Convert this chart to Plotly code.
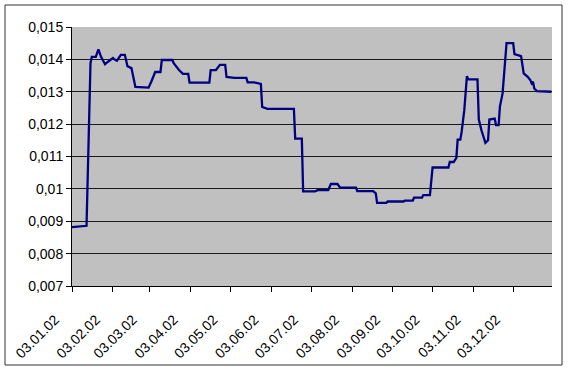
import plotly.graph_objects as go

dates = [
    "2002-01-03", "2002-01-14", "2002-01-17", "2002-01-18", "2002-01-21", "2002-01-23",
    "2002-01-25", "2002-01-28", "2002-01-30", "2002-02-03", "2002-02-04", "2002-02-06",
    "2002-02-09", "2002-02-12", "2002-02-14", "2002-02-17", "2002-02-20", "2002-02-28",
    "2002-03-02", "2002-03-04", "2002-03-07", "2002-03-11", "2002-03-12", "2002-03-20",
    "2002-03-21", "2002-03-25", "2002-03-28", "2002-04-01", "2002-04-02", "2002-04-17",
    "2002-04-18", "2002-04-22", "2002-04-25", "2002-04-29", "2002-04-30", "2002-05-06",
    "2002-05-15", "2002-05-16", "2002-05-21", "2002-05-26", "2002-05-27", "2002-05-31",
    "2002-06-20", "2002-06-21", "2002-06-26", "2002-06-27", "2002-07-06", "2002-07-08",
    "2002-07-16", "2002-07-18", "2002-07-23", "2002-07-25", "2002-08-06", "2002-08-07",
    "2002-08-19", "2002-08-21", "2002-08-22", "2002-08-29", "2002-08-30", "2002-09-11",
    "2002-09-12", "2002-09-18", "2002-09-19", "2002-09-25", "2002-09-26", "2002-10-01",
    "2002-10-03", "2002-10-15", "2002-10-16", "2002-10-19", "2002-10-21", "2002-10-22",
    "2002-10-24", "2002-10-25", "2002-10-27", "2002-10-29", "2002-10-30", "2002-11-06",
    "2002-11-07", "2002-11-09", "2002-11-12", "2002-11-14", "2002-11-15", "2002-11-19",
    "2002-11-20", "2002-11-22", "2002-11-23", "2002-11-25", "2002-11-27", "2002-11-28",
    "2002-12-03", "2002-12-04", "2002-12-09", "2002-12-11", "2002-12-14", "2002-12-16",
    "2002-12-17", "2002-12-18", "2002-12-19", "2002-12-21", "2003-01-01",
]
values = [
    0.00882, 0.00886, 0.01388, 0.01408, 0.01408, 0.01431,
    0.01408, 0.01385, 0.01392, 0.01404, 0.01400, 0.01396,
    0.01414, 0.01414, 0.01379, 0.01373, 0.01315, 0.01315,
    0.01313, 0.01331, 0.01361, 0.01361, 0.01398, 0.01398,
    0.01388, 0.01367, 0.01355, 0.01355, 0.01328, 0.01328,
    0.01367, 0.01367, 0.01383, 0.01383, 0.01346, 0.01343,
    0.01343, 0.01329, 0.01329, 0.01324, 0.01253, 0.01247,
    0.01247, 0.01155, 0.01155, 0.00992, 0.00992, 0.00996,
    0.00996, 0.01015, 0.01015, 0.01004, 0.01004, 0.00993,
    0.00993, 0.00986, 0.00957, 0.00957, 0.00961, 0.00961,
    0.00964, 0.00964, 0.00973, 0.00973, 0.00981, 0.00981,
    0.01066, 0.01066, 0.01083, 0.01083, 0.01096, 0.01152,
    0.01152, 0.01176, 0.01243, 0.01348, 0.01338, 0.01338,
    0.01214, 0.01181, 0.01142, 0.01150, 0.01214, 0.01217,
    0.01197, 0.01197, 0.01255, 0.01295, 0.01408, 0.01450,
    0.01450, 0.01416, 0.01410, 0.01357, 0.01346, 0.01336,
    0.01326, 0.01331, 0.01310, 0.01302, 0.01300,
]

tick_dates = ["2002-%02d-03" % m for m in range(1, 13)]
tick_labels = ["03.%02d.02" % m for m in range(1, 13)]

fig = go.Figure()
fig.add_trace(go.Scatter(x=dates, y=values, mode="lines",
                         line=dict(color="#000080", width=2.3), hoverinfo="skip"))

font = dict(family="Liberation Sans, Arial, sans-serif", size=14, color="#000000")

fig.update_layout(
    width=568, height=370,
    margin=dict(l=72, r=16, t=27, b=84, autoexpand=False),
    paper_bgcolor="white",
    plot_bgcolor="#C0C0C0",
    showlegend=False,
    separators=",.",
    font=font,
    xaxis=dict(
        type="date", automargin=False,
        range=["2002-01-03", "2003-01-01 10:00"],
        tickvals=tick_dates, ticktext=tick_labels,
        tickangle=-45, tickfont=font,
        ticklabelshift=-17, ticklabelstandoff=14,
        showgrid=False, zeroline=False,
        showline=True, linecolor="#000000", linewidth=1,
        ticks="outside", ticklen=5, tickcolor="#000000",
    ),
    yaxis=dict(
        range=[0.007, 0.015], automargin=False,
        dtick=0.001, tick0=0.007, tickformat=".3~f",
        tickfont=font,
        showgrid=True, gridcolor="#1a1a1a", gridwidth=1,
        zeroline=False,
        showline=True, linecolor="#000000", linewidth=1,
        ticks="outside", ticklen=5, tickcolor="#000000",
    ),
    shapes=[dict(type="rect", xref="paper", yref="paper",
                 x0=(5 - 72) / 480, x1=(562 - 72) / 480,
                 y0=(286 - 365) / 259, y1=(286 - 5) / 259,
                 line=dict(color="#333333", width=1), fillcolor="rgba(0,0,0,0)",
                 layer="below")],
)

fig.write_html("out.html")
